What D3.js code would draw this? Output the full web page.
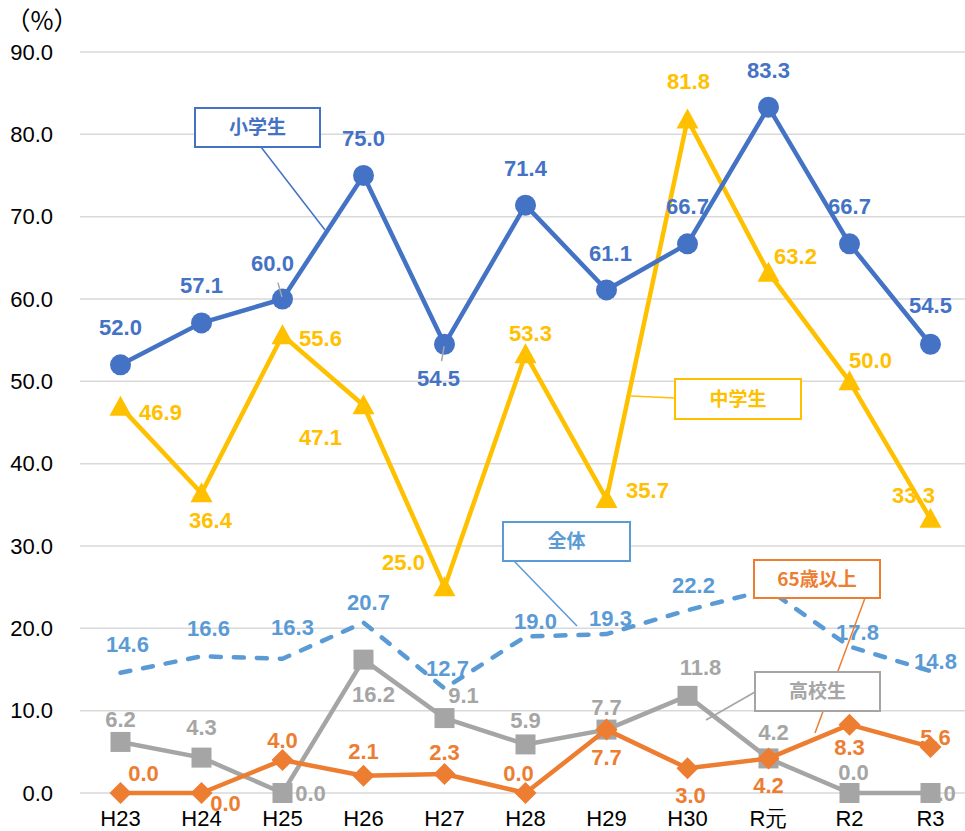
<!DOCTYPE html>
<html>
<head>
<meta charset="utf-8">
<script src="https://cdn.jsdelivr.net/npm/d3@7"></script>
<style>
  body { margin: 0; background: #fff; }
  svg { display: block; }
  .num { font-family: "Liberation Sans Narrow", "Liberation Sans", Arial, sans-serif; }
  .jp { font-family: "Noto Sans CJK JP", "Noto Sans", sans-serif; }
</style>
</head>
<body>
<svg width="965" height="831"></svg>
<script>
// year labels
const years = ["H23", "H24", "H25", "H26", "H27", "H28", "H29", "H30", "R元", "R2", "R3"];
const yTicks = [0, 10, 20, 30, 40, 50, 60, 70, 80, 90];

// rates (%)
const elementary = [52.0, 57.1, 60.0, 75.0, 54.5, 71.4, 61.1, 66.7, 83.3, 66.7, 54.5];
const juniorHigh = [46.9, 36.4, 55.6, 47.1, 25.0, 53.3, 35.7, 81.8, 63.2, 50.0, 33.3];
const overall = [14.6, 16.6, 16.3, 20.7, 12.7, 19.0, 19.3, 22.2, 24.7, 17.8, 14.8];
const highSchool = [6.2, 4.3, 0.0, 16.2, 9.1, 5.9, 7.7, 11.8, 4.2, 0.0, 0.0];
const elderly = [0.0, 0.0, 4.0, 2.1, 2.3, 0.0, 7.7, 3.0, 4.2, 8.3, 5.6];

// where each data label sits relative to its point (null = hidden)
const elementaryShift = [[0,-38],[0,-38],[-10,-36],[0,-37],[-6,34],[0,-37],[4,-37],[0,-38],[0,-37],[0,-38],[0,-39]];
const juniorShift = [[40,5],[9,27],[38,3],[-43,32],[-41,-25],[5,-21],[41,-9],[1,-38],[27,-16],[21,-21],[-17,-24]];
const overallShift = [[7,-28],[7,-28],[10,-31],[5,-20],[3,-20],[10,-15],[4,-16],[6,-25],null,[8,-14],[5,-10]];
const highShift = [[0,-23],[0,-30],[28,0],[10,35],[19,-23],[0,-24],[0,-22],[13,-29],[5,-26],[4,-21],[10,0]];
const elderlyShift = [[23,-20],[24,10],[0,-20],[0,-24],[0,-22],[-7,-20],[0,28],[3,27],[0,27],[0,23],[5,-10]];

const svg = d3.select("svg");
const margin = {top: 52, left: 80, right: 0, bottom: 38};
const width = 971;
const height = +svg.attr("height");

const x = d3.scalePoint().domain(years).range([margin.left, width]).padding(0.5);
const y = d3.scaleLinear().domain([0, 90]).range([height - margin.bottom, margin.top]);

// grid
svg.append("g")
  .selectAll("line")
  .data(yTicks)
  .join("line")
    .attr("x1", margin.left)
    .attr("x2", 965)
    .attr("y1", d => y(d))
    .attr("y2", d => y(d))
    .attr("stroke", "#d9d9d9")
    .attr("stroke-width", 1.5);

// y labels
svg.append("g")
  .selectAll("text")
  .data(yTicks)
  .join("text")
    .attr("class", "num")
    .attr("x", 53)
    .attr("y", d => y(d))
    .attr("dy", "0.35em")
    .attr("text-anchor", "end")
    .attr("font-size", 22)
    .attr("fill", "#000")
    .text(d => d.toFixed(1));

svg.append("text")
  .attr("class", "jp")
  .attr("x", 42)
  .attr("y", 30)
  .attr("text-anchor", "middle")
  .attr("font-size", 25)
  .text("（%）");

// x labels
svg.append("g")
  .selectAll("text")
  .data(years)
  .join("text")
    .attr("class", "num")
    .attr("x", d => x(d))
    .attr("y", 826)
    .attr("text-anchor", "middle")
    .attr("font-size", 22)
    .attr("fill", "#000")
    .text(d => d);

const series = [
  {name: "全体", values: overall, color: "#5B9BD5", marker: null, dash: "10,13", shift: overallShift},
  {name: "高校生", values: highSchool, color: "#A5A5A5", marker: "square", shift: highShift},
  {name: "65歳以上", values: elderly, color: "#ED7D31", marker: "diamond", shift: elderlyShift},
  {name: "中学生", values: juniorHigh, color: "#FFC000", marker: "triangle", shift: juniorShift},
  {name: "小学生", values: elementary, color: "#4472C4", marker: "circle", shift: elementaryShift}
];

const line = d3.line()
  .x((d, i) => x(years[i]))
  .y(d => y(d));

const markerPath = {
  square: "M-10,-10H10V10H-10Z",
  diamond: "M0,-11L11,0L0,11L-11,0Z",
  triangle: "M0,-11L11,9L-11,9Z"
};

const plotG = svg.append("g");

series.forEach(s => {
  const g = plotG.append("g");
  g.append("path")
    .datum(s.values)
    .attr("d", line)
    .attr("fill", "none")
    .attr("stroke", s.color)
    .attr("stroke-width", 4.5)
    .attr("stroke-linejoin", "round")
    .attr("stroke-linecap", s.dash ? "round" : "butt")
    .attr("stroke-dasharray", s.dash || null);

  if (s.marker === "circle") {
    g.selectAll("circle")
      .data(s.values)
      .join("circle")
        .attr("cx", (d, i) => x(years[i]))
        .attr("cy", d => y(d))
        .attr("r", 10.5)
        .attr("fill", s.color);
  } else if (s.marker) {
    g.selectAll(".mk")
      .data(s.values)
      .join("path")
        .attr("class", "mk")
        .attr("d", markerPath[s.marker])
        .attr("transform", (d, i) => `translate(${x(years[i])},${y(d)})`)
        .attr("fill", s.color);
  }
});

// small leader lines next to a couple of labels
const leaders = [[elementary, 2, elementaryShift], [elementary, 4, elementaryShift]];
leaders.forEach(([vals, i, sh]) => {
  const px = x(years[i]), py = y(vals[i]);
  const [dx, dy] = sh[i];
  const len = Math.hypot(dx, dy);
  svg.append("line")
    .attr("x1", px + dx / len * 2)
    .attr("y1", py + dy / len * 2)
    .attr("x2", px + dx / len * 17)
    .attr("y2", py + dy / len * 17)
    .attr("stroke", "#A5A5A5")
    .attr("stroke-width", 1.5);
});

// data labels
series.forEach(s => {
  svg.append("g")
    .selectAll("text")
    .data(s.values.map((v, i) => ({v, i, sh: s.shift[i]})).filter(d => d.sh))
    .join("text")
      .attr("class", "num")
      .attr("x", d => x(years[d.i]) + d.sh[0])
      .attr("y", d => y(d.v) + d.sh[1])
      .attr("dy", "0.35em")
      .attr("text-anchor", "middle")
      .attr("font-size", 22)
      .attr("font-weight", "bold")
      .attr("fill", s.color)
      .text(d => d.v.toFixed(1));
});

// callout boxes
const callouts = [
  {text: "小学生", color: "#4472C4", box: [195, 108, 125, 39], tip: [325, 230], from: [261, 147]},
  {text: "中学生", color: "#FFC000", box: [675, 379, 126, 40], tip: [631, 396], from: [675, 398]},
  {text: "全体", color: "#5B9BD5", box: [503, 522, 127, 39], tip: [577, 626], from: [514, 561]},
  {text: "65歳以上", color: "#ED7D31", box: [754, 560, 126, 38], tip: [815, 733], from: [865, 598]},
  {text: "高校生", color: "#A5A5A5", box: [755, 672, 125, 39], tip: [706, 720], from: [755, 692]}
];

callouts.forEach(c => {
  const [bx, by, bw, bh] = c.box;
  svg.append("line")
    .attr("x1", c.from[0]).attr("y1", c.from[1])
    .attr("x2", c.tip[0]).attr("y2", c.tip[1])
    .attr("stroke", c.color)
    .attr("stroke-width", 1.5);
  svg.append("rect")
    .attr("x", bx).attr("y", by)
    .attr("width", bw).attr("height", bh)
    .attr("fill", "#fff")
    .attr("stroke", c.color)
    .attr("stroke-width", 2);
  svg.append("text")
    .attr("class", "jp")
    .attr("x", bx + bw / 2)
    .attr("y", by + bh / 2)
    .attr("dy", "0.35em")
    .attr("text-anchor", "middle")
    .attr("font-size", 19)
    .attr("font-weight", "bold")
    .attr("fill", c.color)
    .text(c.text);
});
</script>
</body>
</html>
